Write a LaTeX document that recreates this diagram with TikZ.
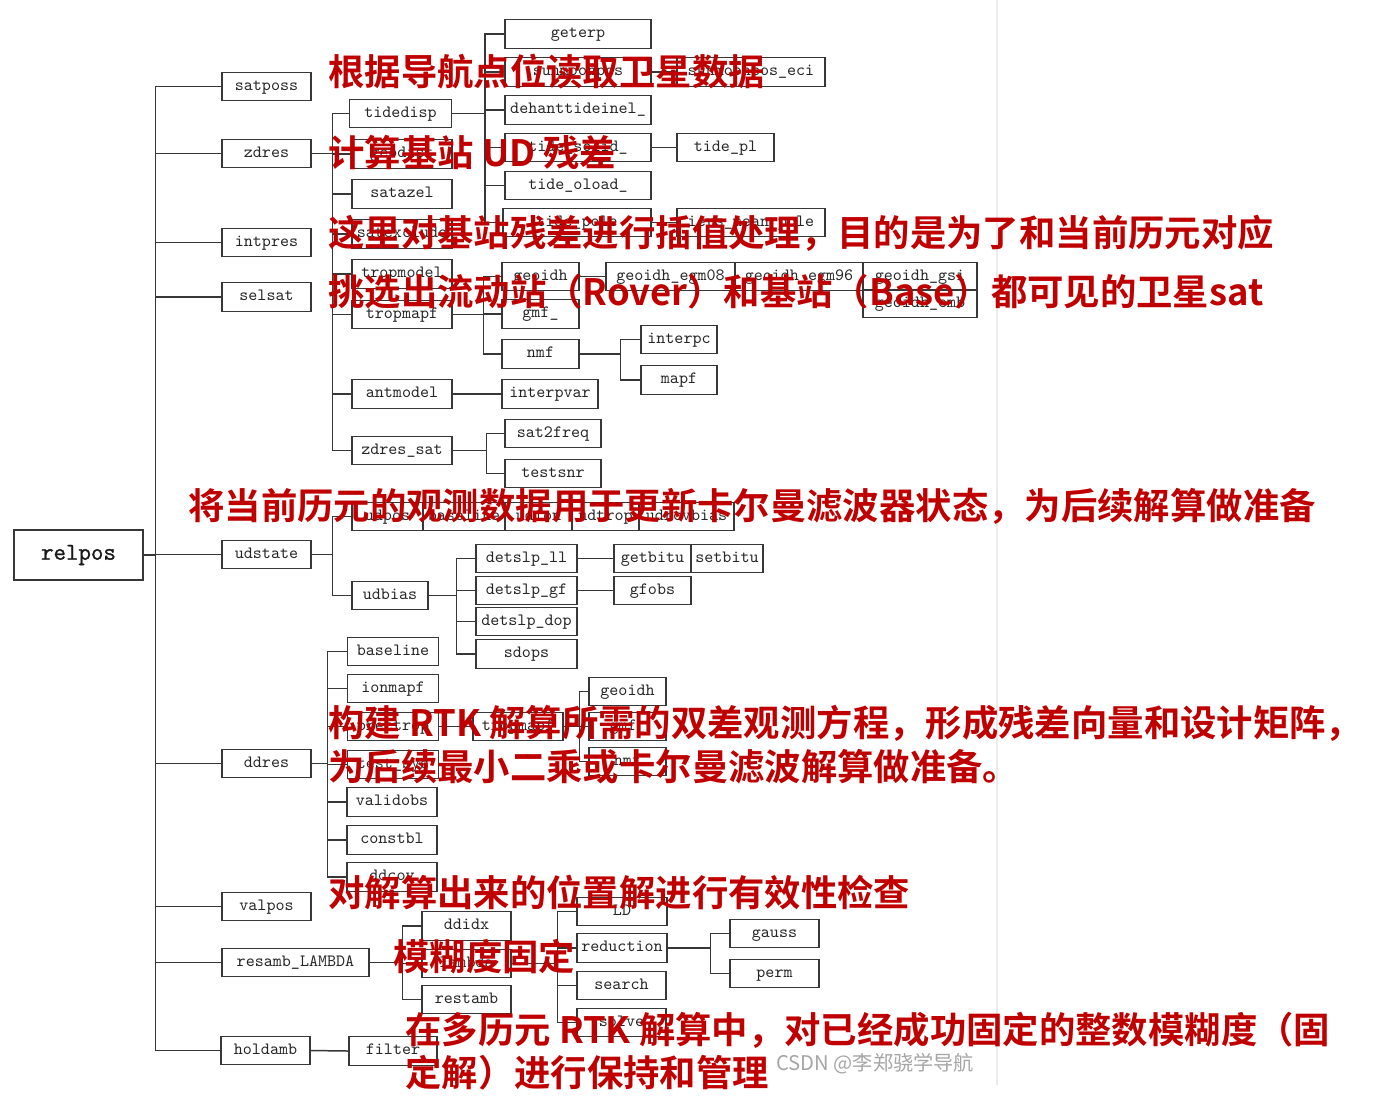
\documentclass[tikz,border=0pt]{standalone}
\usepackage{fontspec}
\newfontfamily\cjk{Noto Sans CJK SC}[BoldFont={Noto Sans CJK SC Bold}]
\newfontfamily\rootfont{Latin Modern Mono}[FakeBold=1.2]
\usepackage{tikz}
\usetikzlibrary{positioning}

\definecolor{boxc}{RGB}{55,55,55}
\definecolor{notered}{RGB}{192,0,0}

\tikzset{
  cell/.style={draw=boxc, line width=0.75pt, minimum width=#1*0.02cm, minimum height=0.57cm,
    inner sep=0pt, font=\ttfamily\fontsize{9.8}{11}\selectfont, text=black!85,
    text height=6.4pt, text depth=1.9pt},
  cell/.default=100,
  wire/.style={draw=boxc, line width=0.85pt},
  note/.style={anchor=west, inner sep=0pt, text=notered,
    font=\cjk\bfseries\fontsize{20.7}{24.5}\selectfont},
}

\begin{document}
\begin{tikzpicture}[x=0.02cm, y=-0.02cm]
\fill[white] (0,0) rectangle (1375,1117);
\useasboundingbox (0,0) rectangle (1375,1117);
\draw[black!8, line width=0.6pt] (997,0) -- (997,1085);

% root
\node[draw=boxc, line width=0.8pt, minimum width=2.58cm, minimum height=1cm, inner sep=0pt,
  font=\rootfont\fontsize{13.8}{15}\selectfont, text=black!90] (relpos) at (78.5,555) {relpos};

% level 1
\node[cell=89] (satposs) at (266.5,86.5) {satposs};
\node[cell=89] (zdres) at (266.5,153.5) {zdres};
\node[cell=89] (intpres) at (266.5,242.5) {intpres};
\node[cell=89] (selsat) at (266.5,297) {selsat};
\node[cell=89] (udstate) at (266.5,554.5) {udstate};
\node[cell=89] (ddres) at (266.5,763.5) {ddres};
\node[cell=89] (valpos) at (266.5,906.5) {valpos};
\node[cell=147] (resamb) at (295.5,962.5) {resamb\_LAMBDA};
\node[cell=89] (holdamb) at (265.5,1050.5) {holdamb};

% zdres
\node[cell=102] (tidedisp) at (400.5,113.5) {tidedisp};
\node[cell=100] (geodist) at (402,154) {geodist};
\node[cell=100] (satazel) at (402,194) {satazel};
\node[cell=100] (satexcl) at (402,234) {satexclude};
\node[cell=100] (tropmodel) at (402,274) {tropmodel};
\node[cell=100] (tropmapfa) at (402,314.5) {tropmapf};
\node[cell=100] (antmodel) at (402,394) {antmodel};
\node[cell=100] (zdressat) at (402,450.5) {zdres\_sat};

\node[cell=146] (geterp) at (578,34) {geterp};
\node[cell=146] (sunmoon) at (578,72) {sunmoonpos};
\node[cell=148] (sunmooneci) at (751,72) {sunmoonpos\_eci};
\node[cell=146] (dehant) at (578,110) {dehanttideinel\_};
\node[cell=146] (tidesolid) at (578,147.5) {tide\_solid\_};
\node[cell=97] (tidepl) at (725.5,147.5) {tide\_pl};
\node[cell=146] (tideoload) at (578,185.5) {tide\_oload\_};
\node[cell=148] (tidepole) at (577,222.5) {tide\_pole};
\node[cell=148] (iersmp) at (751,222.5) {iers\_mean\_pole};

\node[cell=77] (geoidha) at (540.5,276.5) {geoidh};
\node[cell=77] (gmfa) at (540.5,314) {gmf\_};
\node[cell=77] (nmfa) at (540.5,354) {nmf};
\node[cell=129] (egm08) at (670.5,276.5) {geoidh\_egm08};
\node[cell=128] (egm96) at (799,276.5) {geoidh\_egm96};
\node[cell=114] (gsi) at (920,276.5) {geoidh\_gsi};
\node[cell=114] (emb) at (920,303.5) {geoidh\_emb};
\node[cell=76] (interpc) at (679,339.5) {interpc};
\node[cell=76] (mapf) at (679,380) {mapf};
\node[cell=96] (interpvar) at (550,394) {interpvar};
\node[cell=96] (sat2freq) at (553,433.5) {sat2freq};
\node[cell=96] (testsnr) at (553,473.5) {testsnr};

% udstate
\node[cell=71] (udpos) at (387.5,516.5) {udpos};
\node[cell=82] (baselinea) at (464,516.5) {baseline};
\node[cell=67] (udion) at (538.5,516.5) {udion};
\node[cell=67] (udtrop) at (605.5,516.5) {udtrop};
\node[cell=95] (udrcvbias) at (686.5,516.5) {udrcvbias};
\node[cell=76] (udbias) at (390,595.5) {udbias};
\node[cell=101] (detll) at (526.5,558.5) {detslp\_ll};
\node[cell=101] (detgf) at (526.5,590.5) {detslp\_gf};
\node[cell=101] (detdop) at (526.5,621.5) {detslp\_dop};
\node[cell=101] (sdops) at (526.5,654) {sdops};
\node[cell=77] (getbitu) at (652.5,558.5) {getbitu};
\node[cell=72] (setbitu) at (727,558.5) {setbitu};
\node[cell=77] (gfobs) at (652.5,590.5) {gfobs};

% ddres
\node[cell=91] (baselineb) at (393,651.5) {baseline};
\node[cell=91] (ionmapf) at (393,688.5) {ionmapf};
\node[cell=91] (prectrop) at (393,726.5) {prectrop};
\node[cell=91] (testsys) at (393,764.5) {test\_sys};
\node[cell=90] (validobs) at (392,802) {validobs};
\node[cell=90] (constbl) at (392,840) {constbl};
\node[cell=90] (ddcov) at (392,877) {ddcov};
\node[cell=90] (tropmapfb) at (518,726.5) {tropmapf};
\node[cell=77] (geoidhb) at (627.5,691.5) {geoidh};
\node[cell=77] (gmfb) at (627.5,726.5) {gmf\_};
\node[cell=77] (nmfb) at (627.5,761.5) {nmf};

% resamb_LAMBDA, holdamb
\node[cell=89] (ddidx) at (466.5,926) {ddidx};
\node[cell=89] (lambda) at (466.5,963.5) {lambda};
\node[cell=89] (restamb) at (466.5,999.5) {restamb};
\node[cell=90] (ld) at (622,911.5) {LD};
\node[cell=90] (reduction) at (622,948) {reduction};
\node[cell=89] (search) at (621.5,985.5) {search};
\node[cell=89] (solve) at (621.5,1022.5) {solve};
\node[cell=89] (gauss) at (774.5,933.5) {gauss};
\node[cell=89] (perm) at (774.5,973.5) {perm};
\node[cell=88] (filter) at (393,1051) {filter};

% connectors
\draw[wire] (relpos.east) -- ++(12,0) |- (satposs.west);
\draw[wire] (relpos.east) -- ++(12,0) |- (zdres.west);
\draw[wire] (relpos.east) -- ++(12,0) |- (intpres.west);
\draw[wire] (relpos.east) -- ++(12,0) |- (selsat.west);
\draw[wire] (relpos.east) -- ++(12,0) |- (udstate.west);
\draw[wire] (relpos.east) -- ++(12,0) |- (ddres.west);
\draw[wire] (relpos.east) -- ++(12,0) |- (valpos.west);
\draw[wire] (relpos.east) -- ++(12,0) |- (resamb.west);
\draw[wire] (relpos.east) -- ++(12,0) |- (holdamb.west);

\draw[wire] (zdres.east) -- ++(21,0) |- (tidedisp.west);
\draw[wire] (zdres.east) -- ++(21,0) |- (geodist.west);
\draw[wire] (zdres.east) -- ++(21,0) |- (satazel.west);
\draw[wire] (zdres.east) -- ++(21,0) |- (satexcl.west);
\draw[wire] (zdres.east) -- ++(21,0) |- (tropmodel.west);
\draw[wire] (zdres.east) -- ++(21,0) |- (tropmapfa.west);
\draw[wire] (zdres.east) -- ++(21,0) |- (antmodel.west);
\draw[wire] (zdres.east) -- ++(21,0) |- (zdressat.west);

\draw[wire] (tidedisp.east) -- ++(33,0) |- (geterp.west);
\draw[wire] (tidedisp.east) -- ++(33,0) |- (sunmoon.west);
\draw[wire] (tidedisp.east) -- ++(33,0) |- (dehant.west);
\draw[wire] (tidedisp.east) -- ++(33,0) |- (tidesolid.west);
\draw[wire] (tidedisp.east) -- ++(33,0) |- (tideoload.west);
\draw[wire] (tidedisp.east) -- ++(33,0) |- (tidepole.west);
\draw[wire] (sunmoon.east) -- (sunmooneci.west);
\draw[wire] (tidesolid.east) -- (tidepl.west);
\draw[wire] (tidepole.east) -- (iersmp.west);

\draw[wire] (tropmapfa.east) -- ++(31,0) |- (geoidha.west);
\draw[wire] (tropmapfa.east) -- ++(31,0) |- (gmfa.west);
\draw[wire] (tropmapfa.east) -- ++(31,0) |- (nmfa.west);
\draw[wire] (geoidha.east) -- (egm08.west);
\draw[wire] (nmfa.east) -- ++(41,0) |- (interpc.west);
\draw[wire] (nmfa.east) -- ++(41,0) |- (mapf.west);
\draw[wire] (antmodel.east) -- (interpvar.west);
\draw[wire] (zdressat.east) -- ++(34,0) |- (sat2freq.west);
\draw[wire] (zdressat.east) -- ++(34,0) |- (testsnr.west);

\draw[wire] (udstate.east) -- ++(21,0) |- (udpos.west);
\draw[wire] (udstate.east) -- ++(21,0) |- (udbias.west);
\draw[wire] (udbias.east) -- ++(28,0) |- (detll.west);
\draw[wire] (udbias.east) -- ++(28,0) |- (detgf.west);
\draw[wire] (udbias.east) -- ++(28,0) |- (detdop.west);
\draw[wire] (udbias.east) -- ++(28,0) |- (sdops.west);
\draw[wire] (detll.east) -- (getbitu.west);
\draw[wire] (detgf.east) -- (gfobs.west);

\draw[wire] (ddres.east) -- ++(16,0) |- (baselineb.west);
\draw[wire] (ddres.east) -- ++(16,0) |- (ionmapf.west);
\draw[wire] (ddres.east) -- ++(16,0) |- (prectrop.west);
\draw[wire] (ddres.east) -- ++(16,0) |- (testsys.west);
\draw[wire] (ddres.east) -- ++(16,0) |- (validobs.west);
\draw[wire] (ddres.east) -- ++(16,0) |- (constbl.west);
\draw[wire] (ddres.east) -- ++(16,0) |- (ddcov.west);
\draw[wire] (prectrop.east) -- (tropmapfb.west);
\draw[wire] (tropmapfb.east) -- ++(16,0) |- (geoidhb.west);
\draw[wire] (tropmapfb.east) -- ++(16,0) |- (gmfb.west);
\draw[wire] (tropmapfb.east) -- ++(16,0) |- (nmfb.west);

\draw[wire] (resamb.east) -- ++(33,0) |- (ddidx.west);
\draw[wire] (resamb.east) -- ++(33,0) |- (lambda.west);
\draw[wire] (resamb.east) -- ++(33,0) |- (restamb.west);
\draw[wire] (lambda.east) -- ++(46,0) |- (ld.west);
\draw[wire] (lambda.east) -- ++(46,0) |- (reduction.west);
\draw[wire] (lambda.east) -- ++(46,0) |- (search.west);
\draw[wire] (lambda.east) -- ++(46,0) |- (solve.west);
\draw[wire] (reduction.east) -- ++(43,0) |- (gauss.west);
\draw[wire] (reduction.east) -- ++(43,0) |- (perm.west);
\draw[wire] (holdamb.east) -- (filter.west);

% red notes
\node[note] (n1) at (328,72) {根据导航点位读取卫星数据};
\node[note] (n2) at (328,153) {计算基站 UD 残差};
\node[note] (n3) at (328,233) {这里对基站残差进行插值处理，目的是为了和当前历元对应};
\node[note] (n4) at (328,292) {挑选出流动站（Rover）和基站（Base）都可见的卫星sat};
\node[note] (n5) at (188,506) {将当前历元的观测数据用于更新卡尔曼滤波器状态，为后续解算做准备};
\node[note] (n6) at (328,723) {构建 RTK 解算所需的双差观测方程，形成残差向量和设计矩阵，};
\node[note] (n7) at (328,767) {为后续最小二乘或卡尔曼滤波解算做准备。};
\node[note] (n8) at (328,892) {对解算出来的位置解进行有效性检查};
\node[note] (n9) at (393,957) {模糊度固定};
\node[note, anchor=north west, align=left] (n10) at (405,1012) {在多历元 RTK 解算中，对已经成功固定的整数模糊度（固\\定解）进行保持和管理};
\node[anchor=west, inner sep=0pt, text=black!35, font=\cjk\fontsize{11.5}{13}\selectfont] (mark) at (776,1064) {CSDN @李郑骁学导航};
\end{tikzpicture}
\end{document}
